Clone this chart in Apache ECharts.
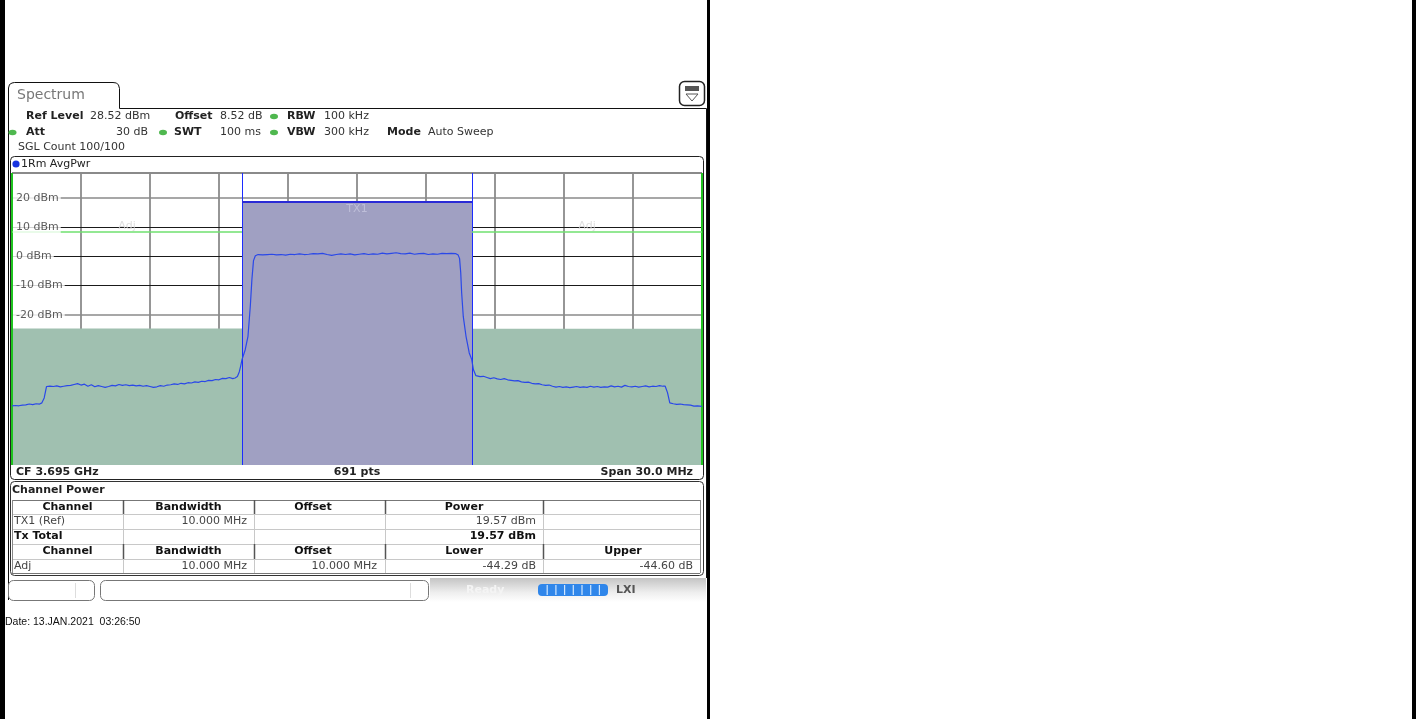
<!DOCTYPE html>
<html>
<head>
<meta charset="utf-8">
<script src="https://cdn.jsdelivr.net/npm/echarts@6/dist/echarts.min.js"></script>
<style>
html,body{margin:0;padding:0;background:#fff;}
#c{width:1416px;height:719px;}
</style>
</head>
<body>
<div id="c"></div>
<script>
// ---------------- DATA ----------------
const centerFreq = '3.695 GHz';
const spanText = '30.0 MHz';
const sweepPoints = 691;
const refLevelDbm = 28.52;
const yBottomDbm = -71.48;
// trace: [frequency offset from CF (MHz), level (dBm)]
const traceLowerAdj = [
 [-15.00,-51.2],[-14.85,-51.1],[-14.70,-51.2],[-14.55,-51.0],[-14.40,-50.9],[-14.25,-50.6],[-14.10,-50.8],
 [-13.95,-50.5],[-13.80,-50.6],[-13.70,-50.2],[-13.60,-48.5],
 [-13.50,-44.6],[-13.35,-44.5],[-13.20,-44.6],[-13.05,-44.4],[-12.90,-44.7],[-12.75,-44.5],[-12.60,-44.3],
 [-12.45,-44.2],[-12.30,-43.9],[-12.15,-43.6],[-12.00,-44.1],[-11.85,-43.8],[-11.70,-44.5],[-11.55,-44.0],
 [-11.40,-44.7],[-11.25,-44.3],[-11.10,-44.6],[-10.95,-44.9],[-10.80,-44.6],[-10.65,-44.2],[-10.50,-44.4],
 [-10.35,-43.9],[-10.20,-44.2],[-10.05,-44.0],[-9.90,-44.3],[-9.75,-44.1],[-9.60,-44.4],[-9.45,-44.2],
 [-9.30,-44.5],[-9.15,-44.3],[-9.00,-44.6],[-8.85,-44.9],[-8.70,-44.7],[-8.55,-44.3],[-8.40,-44.5],
 [-8.25,-44.1],[-8.10,-44.0],[-7.95,-43.7],[-7.80,-43.9],[-7.65,-43.5],[-7.50,-43.7],[-7.35,-43.3],
 [-7.20,-43.4],[-7.05,-43.0],[-6.90,-43.2],[-6.75,-42.8],[-6.60,-42.9],[-6.45,-42.5],[-6.30,-42.6],
 [-6.15,-42.2],[-6.00,-42.3],[-5.85,-41.8],[-5.70,-41.9],[-5.55,-41.5],[-5.40,-41.9],[-5.30,-41.7],
 [-5.20,-41.2],[-5.12,-39.6],[-5.06,-37.7],[-5.00,-35.4]
];
const traceTx = [
 [-4.86,-32.0],[-4.74,-27.4],[-4.64,-17.2],[-4.57,-8.0],[-4.50,-1.5],[-4.42,0.2],
 [-4.30,0.6],[-4.10,0.5],[-3.90,0.6],[-3.70,0.7],[-3.50,0.5],[-3.30,0.6],[-3.10,0.4],[-2.90,0.7],
 [-2.70,0.6],[-2.50,0.8],[-2.30,0.6],[-2.10,0.7],[-1.90,0.9],[-1.70,0.8],[-1.50,1.0],[-1.30,0.6],
 [-1.10,0.3],[-0.90,0.6],[-0.70,0.8],[-0.50,0.6],[-0.30,0.8],[-0.10,0.5],[0.10,0.7],[0.30,0.9],
 [0.50,0.6],[0.70,0.8],[0.90,0.7],[1.10,1.1],[1.30,0.8],[1.50,1.0],[1.70,1.2],[1.90,0.9],
 [2.10,0.8],[2.30,1.1],[2.50,0.7],[2.70,0.9],[2.90,1.0],[3.10,0.6],[3.30,0.8],[3.50,0.7],
 [3.70,1.0],[3.90,0.9],[4.10,1.0],[4.30,0.9],
 [4.40,0.4],[4.46,-0.8],[4.51,-5.6],[4.55,-12.5],[4.62,-20.6],[4.74,-27.4],[4.88,-33.1],[4.99,-35.4]
];
const traceUpperAdj = [
 [5.06,-38.8],[5.17,-40.9],[5.35,-41.2],[5.50,-41.1],[5.65,-41.5],[5.80,-41.9],[5.95,-41.6],[6.10,-42.0],
 [6.25,-42.2],[6.40,-41.9],[6.55,-42.3],[6.70,-42.5],[6.85,-42.7],[7.00,-42.6],[7.15,-43.0],[7.30,-43.2],
 [7.45,-43.1],[7.60,-43.5],[7.75,-43.7],[7.90,-43.6],[8.05,-44.0],[8.20,-44.2],[8.35,-44.1],[8.50,-44.5],
 [8.65,-44.8],[8.80,-44.6],[8.95,-44.9],[9.10,-44.7],[9.25,-45.0],[9.40,-44.8],[9.55,-44.6],[9.70,-44.9],
 [9.85,-44.7],[10.00,-44.9],[10.15,-44.5],[10.30,-44.8],[10.45,-44.6],[10.60,-44.9],[10.75,-44.7],[10.90,-44.8],
 [11.05,-44.4],[11.20,-44.7],[11.35,-44.5],[11.50,-44.8],[11.65,-44.2],[11.80,-44.6],[11.95,-44.7],[12.10,-44.5],
 [12.25,-44.8],[12.40,-44.6],[12.55,-44.4],[12.70,-44.7],[12.85,-44.5],[13.00,-44.6],[13.15,-44.3],[13.30,-44.5],
 [13.40,-44.5],[13.50,-46.7],[13.60,-50.2],[13.75,-50.5],[13.90,-50.7],[14.05,-50.6],[14.20,-50.8],[14.35,-50.9],
 [14.50,-51.0],[14.65,-51.3],[14.80,-51.2],[15.00,-51.4]
];
const yTickValues = [20, 10, 0, -10, -20];
const yTickLabels = ['20 dBm', '10 dBm', '0 dBm', '-10 dBm', '-20 dBm'];
const channelNames = ['Adj', 'TX1', 'Adj'];
const channelStartMHz = [-15, -5, 5];
const channelEndMHz = [-5, 5, 15];
const channelBarDbm = [-24.7, 18.6, -24.8];
const limitLineDbm = 8.3;
// table values
const tableRows1 = [['TX1 (Ref)', '10.000 MHz', '', '19.57 dBm']];
const txTotal = '19.57 dBm';
const adjRow = ['Adj', '10.000 MHz', '10.000 MHz', '-44.29 dB', '-44.60 dB'];

// ---------------- CHART ----------------
const chart = echarts.init(document.getElementById('c'), null, {renderer: 'canvas', width: 1416, height: 719});
const F = "'DejaVu Sans', Verdana, sans-serif";
function txt(x, y, s, o) {
  o = o || {};
  return {type: 'text', silent: true, z: 20,
    style: {x: x, y: y, text: s, font: (o.bold ? 'bold ' : '') + (o.size || 11) + 'px ' + (o.family || F),
      fill: o.color || '#222', textAlign: o.align || 'left', textVerticalAlign: 'middle'}};
}
function ln(x1, y1, x2, y2, c, w) {
  return {type: 'line', silent: true, z: 15, shape: {x1: x1, y1: y1, x2: x2, y2: y2}, style: {stroke: c, lineWidth: w || 1}};
}
function rect(x, y, w, h, o) {
  o = o || {};
  return {type: 'rect', silent: true, z: o.z || 5, shape: {x: x, y: y, width: w, height: h, r: o.r || 0},
    style: {fill: o.fill || 'none', stroke: o.stroke || null, lineWidth: o.lw || 1}};
}
function dot(x, y, c) {
  return {type: 'circle', silent: true, z: 20, scaleY: 0.7, originX: x, originY: y, shape: {cx: x, cy: y, r: 4}, style: {fill: c}};
}

const G = [];
// outer black borders
G.push(rect(0, 0, 5, 719, {fill: '#000', z: 30}));
G.push(rect(707, 0, 3, 719, {fill: '#000', z: 30}));
G.push(rect(1412, 0, 4, 719, {fill: '#000', z: 30}));
// tab outline
G.push({type: 'polyline', silent: true, z: 10,
  shape: {points: [[8.5, 600], [8.5, 88], [9.5, 84.5], [12, 83], [14.5, 82.5], [113, 82.5], [116.5, 83], [118.5, 85], [119.5, 88.5], [119.5, 108.5], [706.5, 108.5], [706.5, 578]]},
  style: {fill: 'none', stroke: '#111', lineWidth: 1}});
G.push(txt(17, 95, 'Spectrum', {size: 14, color: '#777'}));
// icon top right
G.push(rect(679.5, 81.5, 25, 24, {r: 5, stroke: '#222', lw: 1.5, z: 10}));
G.push(rect(685, 86, 14, 5, {fill: '#555', z: 11}));
G.push({type: 'polygon', silent: true, z: 11, shape: {points: [[686, 94], [698, 94], [692, 101]]}, style: {fill: '#fff', stroke: '#555', lineWidth: 1}});
// header settings
G.push(txt(26, 116, 'Ref Level', {bold: true}));
G.push(txt(90, 116, '28.52 dBm', {color: '#333'}));
G.push(txt(175, 116, 'Offset', {bold: true}));
G.push(txt(220, 116, '8.52 dB', {color: '#333'}));
G.push(dot(274, 116.5, '#4fb84f'));
G.push(txt(287, 116, 'RBW', {bold: true}));
G.push(txt(324, 116, '100 kHz', {color: '#333'}));
G.push(dot(12.5, 132.5, '#4fb84f'));
G.push(txt(26, 132, 'Att', {bold: true}));
G.push(txt(148, 132, '30 dB', {color: '#333', align: 'right'}));
G.push(dot(163, 132.5, '#4fb84f'));
G.push(txt(174, 132, 'SWT', {bold: true}));
G.push(txt(261, 132, '100 ms', {color: '#333', align: 'right'}));
G.push(dot(274, 132.5, '#4fb84f'));
G.push(txt(287, 132, 'VBW', {bold: true}));
G.push(txt(324, 132, '300 kHz', {color: '#333'}));
G.push(txt(387, 132, 'Mode', {bold: true}));
G.push(txt(428, 132, 'Auto Sweep', {color: '#333'}));
G.push(txt(18, 147, 'SGL Count 100/100', {color: '#333'}));
// trace panel frame
G.push(rect(10.5, 156.5, 693, 323, {r: 4, stroke: '#222', z: 10}));
G.push({type: 'circle', silent: true, z: 20, shape: {cx: 16, cy: 164, r: 3.6}, style: {fill: '#1834e0'}});
G.push(txt(21, 164, '1Rm AvgPwr', {color: '#222'}));
G.push(txt(16, 472, 'CF ' + centerFreq, {bold: true}));
G.push(txt(357, 472, sweepPoints + ' pts', {bold: true, align: 'center'}));
G.push(txt(693, 472, 'Span ' + spanText, {bold: true, align: 'right'}));
// channel power panel
G.push(rect(10.5, 481.5, 693, 94, {r: 4, stroke: '#333', z: 10}));
G.push(txt(12, 490, 'Channel Power', {bold: true}));
const colX = [12, 123, 254, 385, 543, 700];
const rowY = [500, 514, 529, 544, 559, 573];
for (let i = 0; i < rowY.length; i++) {
  G.push(ln(colX[0], rowY[i] + 0.5, colX[5], rowY[i] + 0.5, i === 0 || i === 5 ? '#777' : '#c8c8c8', 1));
}
G.push(ln(12.5, 500, 12.5, 573, '#888', 1));
G.push(ln(700.5, 500, 700.5, 573, '#888', 1));
for (let j = 1; j < 5; j++) {
  G.push(ln(colX[j] + 0.5, rowY[0], colX[j] + 0.5, rowY[1], '#555', 1.5));
  G.push(ln(colX[j] + 0.5, rowY[3], colX[j] + 0.5, rowY[4], '#555', 1.5));
  G.push(ln(colX[j] + 0.5, rowY[1], colX[j] + 0.5, rowY[3], '#c8c8c8', 1));
  G.push(ln(colX[j] + 0.5, rowY[4], colX[j] + 0.5, rowY[5], '#c8c8c8', 1));
}
const h1 = ['Channel', 'Bandwidth', 'Offset', 'Power', ''];
const h2 = ['Channel', 'Bandwidth', 'Offset', 'Lower', 'Upper'];
const hx = [67.5, 188.5, 313, 464, 623];
for (let j = 0; j < 5; j++) {
  if (h1[j]) G.push(txt(hx[j], 507, h1[j], {bold: true, align: 'center', color: '#111'}));
  G.push(txt(hx[j], 551.5, h2[j], {bold: true, align: 'center', color: '#111'}));
}
const rx = [14, 247, 377, 536, 693];
tableRows1.forEach(function (r) {
  G.push(txt(rx[0], 521.5, r[0], {color: '#444'}));
  G.push(txt(rx[1], 521.5, r[1], {color: '#444', align: 'right'}));
  G.push(txt(rx[3], 521.5, r[3], {color: '#444', align: 'right'}));
});
G.push(txt(rx[0], 536.5, 'Tx Total', {bold: true, color: '#111'}));
G.push(txt(rx[3], 536.5, txTotal, {bold: true, color: '#111', align: 'right'}));
G.push(txt(rx[0], 566, adjRow[0], {color: '#444'}));
for (let j = 1; j < 5; j++) G.push(txt(rx[j], 566, adjRow[j], {color: '#444', align: 'right'}));
// status bar
G.push({type: 'rect', silent: true, z: 4, shape: {x: 430, y: 578, width: 276, height: 24},
  style: {fill: new echarts.graphic.LinearGradient(0, 0, 0, 1, [{offset: 0, color: '#c4c4c4'}, {offset: 0.6, color: '#eeeeee'}, {offset: 1, color: '#ffffff'}])}});
G.push(rect(8.5, 580.5, 86, 20, {r: 5, stroke: '#777', fill: '#fff', z: 10}));
G.push(ln(75.5, 583, 75.5, 598, '#ddd', 1));
G.push(rect(100.5, 580.5, 328, 20, {r: 5, stroke: '#777', fill: '#fff', z: 10}));
G.push(ln(410.5, 583, 410.5, 598, '#ddd', 1));
G.push(txt(466, 590, 'Ready', {bold: true, color: '#f4f4f4'}));
G.push(rect(538, 584, 70, 12, {r: 4, fill: '#2f86ea', z: 10}));
for (let k = 1; k < 8; k++) G.push(ln(538.5 + k * 8.7, 585, 538.5 + k * 8.7, 595, '#cfe6ff', 1.2));
G.push(txt(616, 590, 'LXI', {bold: true, color: '#555', size: 11}));
// date
G.push(txt(5, 622, 'Date: 13.JAN.2021  03:26:50', {family: "'Liberation Sans', Arial, sans-serif", size: 10.5, color: '#111'}));

// marks built from data
const hLines = [{yAxis: refLevelDbm, lineStyle: {color: '#8a8a8a', width: 2, type: 'solid'}}];
yTickValues.forEach(function (v) {
  const major = (v === 20 || v === -20);
  hLines.push({yAxis: v, lineStyle: {color: major ? '#8a8a8a' : '#1a1a1a', width: major ? 1.6 : 1.1, type: 'solid'}});
});
const chanColors = ['#a0c0b0', '#a0a0c2', '#a0c0b0'];
const areas = channelNames.map(function (n, i) {
  return [{xAxis: channelStartMHz[i], yAxis: yBottomDbm, itemStyle: {color: chanColors[i], opacity: 1}},
          {xAxis: channelEndMHz[i], yAxis: channelBarDbm[i]}];
});
const chanLines = [
  {xAxis: channelStartMHz[0], lineStyle: {color: '#1fc41f', width: 2, type: 'solid'}},
  {xAxis: channelEndMHz[2], lineStyle: {color: '#1fc41f', width: 2, type: 'solid'}},
  {xAxis: channelStartMHz[1], lineStyle: {color: '#1c2cff', width: 1, type: 'solid'}},
  {xAxis: channelEndMHz[1], lineStyle: {color: '#1c2cff', width: 1, type: 'solid'}},
  [{coord: [channelStartMHz[1], channelBarDbm[1]], lineStyle: {color: '#2a2ad6', width: 2, type: 'solid'}}, {coord: [channelEndMHz[1], channelBarDbm[1]]}],
  [{coord: [channelStartMHz[0], limitLineDbm], lineStyle: {color: '#6fe06f', width: 1.6, type: 'solid'}}, {coord: [channelEndMHz[0], limitLineDbm]}],
  [{coord: [channelStartMHz[2], limitLineDbm], lineStyle: {color: '#6fe06f', width: 1.6, type: 'solid'}}, {coord: [channelEndMHz[2], limitLineDbm]}]
];
const labelPts = yTickValues.map(function (v, i) { return {value: [channelStartMHz[0], v], name: yTickLabels[i]}; });
channelNames.forEach(function (n, i) {
  const mid = (channelStartMHz[i] + channelEndMHz[i]) / 2;
  const y = n === 'TX1' ? 16.2 : 10.4;
  labelPts.push({value: [mid, y], name: n,
    label: {position: 'inside', backgroundColor: 'transparent', padding: 0, color: n === 'TX1' ? '#c6c6de' : '#d6d6d6'}});
});
const tracePts = traceLowerAdj.concat(traceTx, traceUpperAdj);

chart.setOption({
  animation: false,
  backgroundColor: '#fff',
  graphic: {elements: G},
  grid: {left: 12, top: 173, width: 690, height: 292, containLabel: false},
  xAxis: {type: 'value', min: -15, max: 15, interval: 3,
    axisLine: {show: false}, axisTick: {show: false}, axisLabel: {show: false},
    splitLine: {show: true, lineStyle: {color: '#7c7c7c', width: 1.6}}},
  yAxis: {type: 'value', min: yBottomDbm, max: refLevelDbm,
    axisLine: {show: false}, axisTick: {show: false}, axisLabel: {show: false}, splitLine: {show: false}},
  series: [
    {type: 'line', z: 1, data: [], silent: true,
      markLine: {z: 1, silent: true, symbol: ['none', 'none'], label: {show: false}, animation: false, data: hLines}},
    {type: 'line', z: 2, data: [], silent: true,
      markArea: {z: 2, silent: true, animation: false, label: {show: false}, data: areas}},
    {type: 'line', z: 3, data: [], silent: true,
      markLine: {z: 3, silent: true, symbol: ['none', 'none'], label: {show: false}, animation: false, data: chanLines}},
    {type: 'line', z: 8, data: tracePts, showSymbol: false, symbol: 'none', silent: true,
      lineStyle: {color: '#2a48e8', width: 1.2}},
    {type: 'scatter', z: 12, symbolSize: 0, silent: true, data: labelPts,
      label: {show: true, formatter: '{b}', position: 'right', distance: 1, padding: [1, 2, 1, 3],
        backgroundColor: '#fff', color: '#333', fontSize: 11, fontFamily: 'DejaVu Sans'}}
  ]
});
</script>
</body>
</html>
